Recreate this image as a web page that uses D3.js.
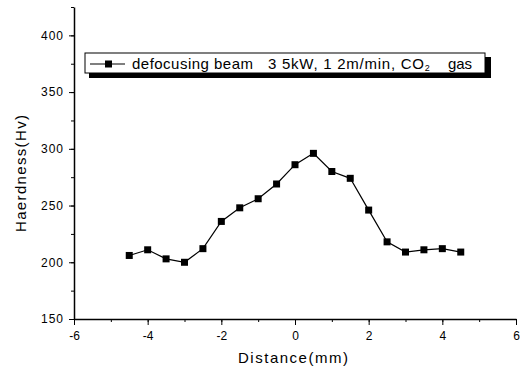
<!DOCTYPE html>
<html>
<head>
<meta charset="utf-8">
<script src="https://cdn.jsdelivr.net/npm/d3@7"></script>
<style>
  body { margin: 0; background: #fff; }
  svg { display: block; font-family: "Liberation Sans", Arial, sans-serif; }
</style>
</head>
<body>
<svg width="527" height="371"></svg>
<script>
// values
const distance = [-4.5, -4, -3.5, -3, -2.5, -2, -1.5, -1, -0.5, 0, 0.5, 1, 1.5, 2, 2.5, 3, 3.5, 4, 4.5]
const hardness = [206, 211, 203, 200, 212, 236, 248, 256, 269, 286, 296, 280, 274, 246, 218, 209, 211, 212, 209]
const xTicks = [-6, -4, -2, 0, 2, 4, 6]
const yTicks = [150, 200, 250, 300, 350, 400]
const labelParts = ['defocusing beam', '3 5kW, 1 2m/min, CO', 'gas']

let data = distance.map((d, i) => ({ x: d, y: hardness[i] }))

const svg = d3.select('svg')
let margin = { top: 7, right: 11, bottom: 52, left: 74 }
let width = 527
let height = 371

let x = d3.scaleLinear().domain([-6, 6]).range([margin.left, width - margin.right])
let y = d3.scaleLinear().domain([150, 425]).range([height - margin.bottom, margin.top])

let fmt = d => String(d) // plain hyphen like the scan

// minor ticks
svg.append('g')
  .attr('transform', `translate(0,${y(150)})`)
  .call(d3.axisBottom(x).tickValues(d3.range(-6, 7, 1)).tickSize(3).tickFormat(''))
  .call(g => g.select('.domain').remove())

svg.append('g')
  .attr('transform', `translate(${x(-6)},0)`)
  .call(d3.axisLeft(y).tickValues(d3.range(150, 426, 25)).tickSize(3).tickFormat(''))
  .call(g => g.select('.domain').remove())

// major axes
svg.append('g')
  .attr('transform', `translate(0,${y(150)})`)
  .call(d3.axisBottom(x).tickValues(xTicks).tickFormat(fmt).tickSize(6).tickSizeOuter(0).tickPadding(6))
  .call(g => g.select('.domain').attr('stroke-width', 1.5))
  .call(g => g.selectAll('text').attr('font-size', 12).attr('font-family', 'Liberation Sans, Arial, sans-serif'))

svg.append('g')
  .attr('transform', `translate(${x(-6)},0)`)
  .call(d3.axisLeft(y).tickValues(yTicks).tickFormat(fmt).tickSize(5).tickSizeOuter(0).tickPadding(5))
  .call(g => g.select('.domain').attr('stroke-width', 1.5))
  .call(g => g.selectAll('text').attr('font-size', 12).attr('letter-spacing', 1).attr('font-family', 'Liberation Sans, Arial, sans-serif'))

// axis titles
svg.append('text')
  .attr('x', 238)
  .attr('y', 363)
  .attr('font-size', 15)
  .attr('textLength', 110)
  .attr('lengthAdjust', 'spacing')
  .text('Distance(mm)')

svg.append('text')
  .attr('transform', 'translate(26,232) rotate(-90)')
  .attr('font-size', 15)
  .attr('textLength', 117)
  .attr('lengthAdjust', 'spacing')
  .text('Haerdness(Hv)')

// the line and its markers
let line = d3.line().x(d => x(d.x)).y(d => y(d.y))

svg.append('path')
  .datum(data)
  .attr('fill', 'none')
  .attr('stroke', '#000')
  .attr('stroke-width', 1.2)
  .attr('d', line)

svg.append('g')
  .selectAll('rect')
  .data(data)
  .enter()
  .append('rect')
  .attr('x', d => x(d.x) - 3.5)
  .attr('y', d => y(d.y) - 3.5)
  .attr('width', 7)
  .attr('height', 7)
  .attr('fill', '#000')

// legend box with shadow
let legend = svg.append('g').attr('transform', 'translate(85,53)')
legend.append('rect')
  .attr('x', 4).attr('y', 4).attr('width', 402).attr('height', 21)
  .attr('fill', '#000')
legend.append('rect')
  .attr('x', 0).attr('y', 0).attr('width', 400).attr('height', 20)
  .attr('fill', '#fff').attr('stroke', '#000').attr('stroke-width', 1)
legend.append('line')
  .attr('x1', 5).attr('x2', 40).attr('y1', 11).attr('y2', 11)
  .attr('stroke', '#000').attr('stroke-width', 1.2)
legend.append('rect')
  .attr('x', 20).attr('y', 7.5).attr('width', 7).attr('height', 7)
  .attr('fill', '#000')
legend.append('text')
  .attr('x', 47).attr('y', 16)
  .attr('font-size', 15)
  .attr('textLength', 121)
  .attr('lengthAdjust', 'spacing')
  .text(labelParts[0])
let co = legend.append('text')
  .attr('x', 183).attr('y', 16)
  .attr('font-size', 15)
co.append('tspan')
  .attr('textLength', 156)
  .attr('lengthAdjust', 'spacing')
  .text(labelParts[1])
co.append('tspan')
  .attr('font-size', 9)
  .attr('dy', 2)
  .text('2')
legend.append('text')
  .attr('x', 363).attr('y', 16)
  .attr('font-size', 15)
  .attr('textLength', 24)
  .attr('lengthAdjust', 'spacing')
  .text(labelParts[2])
</script>
</body>
</html>
